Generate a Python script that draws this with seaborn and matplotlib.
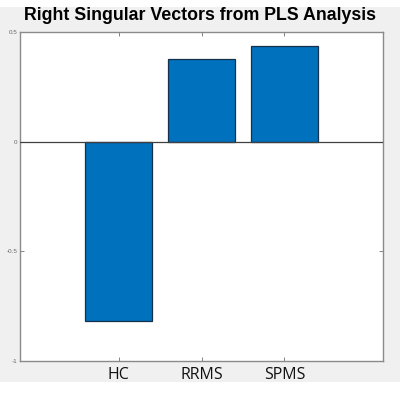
import numpy as np
import pandas as pd
import matplotlib
matplotlib.use("Agg")
import matplotlib.pyplot as plt
import seaborn as sns
from matplotlib.patches import Rectangle

# Data
groups = ["HC", "RRMS", "SPMS"]
loadings = [-0.818, 0.377, 0.438]
ytick_values = [-1, -0.5, 0, 0.5]
ytick_labels = ["-1", "-0.5", "0", "0.5"]

sns.set_theme(style="white")
plt.rcParams["font.family"] = ["Liberation Sans", "DejaVu Sans"]

df = pd.DataFrame({"group": groups, "value": loadings})

fig = plt.figure(figsize=(4.0, 3.93), dpi=100, facecolor="white")
# grey MATLAB-like figure background band
fig.patches.append(Rectangle((0, 11 / 393), 1, 375 / 393, transform=fig.transFigure,
                             facecolor="#f0f0f0", edgecolor="none", zorder=-5))
ax = fig.add_axes([20 / 400, 32 / 393, 363 / 400, 329 / 393])
ax.set_facecolor("white")

sns.barplot(data=df, x="group", y="value", color="#0072BD", saturation=1,
            width=0.8, edgecolor="#15304a", linewidth=0.9, ax=ax, zorder=2)

ax.axhline(0, color="#404040", linewidth=0.9, zorder=3)
ax.set_xlim(-1.187, 3.187)
ax.set_ylim(-1, 0.5)
ax.set_yticks(ytick_values)
ax.set_yticklabels(ytick_labels, fontsize=4.5, color="#666666")
ax.set_xlabel("")
ax.set_ylabel("")
ax.set_xticks(range(len(groups)))
ax.set_xticklabels(groups, fontsize=11.5, color="#111111",
                   family=["Open Sans", "DejaVu Sans"])

ax.tick_params(axis="both", direction="in", length=3, width=0.6, color="#707070",
               top=True, right=True, bottom=True, left=True)
ax.tick_params(axis="x", pad=4)
ax.tick_params(axis="y", pad=2)
for s in ax.spines.values():
    s.set_color("#8a8a8a")
    s.set_linewidth(1.0)

fig.text(0.5, 1 - 16 / 393, "Right Singular Vectors from PLS Analysis",
         ha="center", va="center", fontsize=12.8, fontweight="bold", color="black")

fig.savefig("out.png", dpi=100, facecolor="white")
